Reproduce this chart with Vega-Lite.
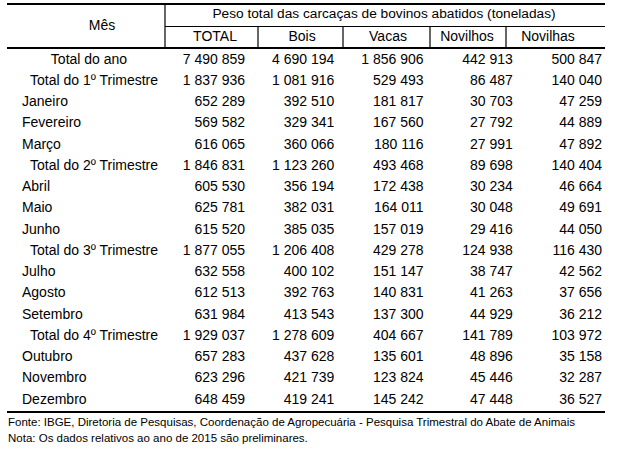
{
  "$schema": "https://vega.github.io/schema/vega-lite/v6.json",
  "width": 620,
  "height": 453,
  "autosize": {"type": "none"},
  "padding": 0,
  "background": "white",
  "config": {
    "view": {"stroke": null},
    "locale": {"number": {"decimal": ",", "thousands": " ", "grouping": [3], "currency": ["", ""]}},
    "text": {"font": "Liberation Sans", "fontSize": 14, "color": "#000000"}
  },
  "datasets": {
    "tabela": [
      {"mes": "Total do ano", "tipo": "ano", "TOTAL": 7490859, "Bois": 4690194, "Vacas": 1856906, "Novilhos": 442913, "Novilhas": 500847},
      {"mes": "Total do 1º Trimestre", "tipo": "trimestre", "TOTAL": 1837936, "Bois": 1081916, "Vacas": 529493, "Novilhos": 86487, "Novilhas": 140040},
      {"mes": "Janeiro", "tipo": "mes", "TOTAL": 652289, "Bois": 392510, "Vacas": 181817, "Novilhos": 30703, "Novilhas": 47259},
      {"mes": "Fevereiro", "tipo": "mes", "TOTAL": 569582, "Bois": 329341, "Vacas": 167560, "Novilhos": 27792, "Novilhas": 44889},
      {"mes": "Março", "tipo": "mes", "TOTAL": 616065, "Bois": 360066, "Vacas": 180116, "Novilhos": 27991, "Novilhas": 47892},
      {"mes": "Total do 2º Trimestre", "tipo": "trimestre", "TOTAL": 1846831, "Bois": 1123260, "Vacas": 493468, "Novilhos": 89698, "Novilhas": 140404},
      {"mes": "Abril", "tipo": "mes", "TOTAL": 605530, "Bois": 356194, "Vacas": 172438, "Novilhos": 30234, "Novilhas": 46664},
      {"mes": "Maio", "tipo": "mes", "TOTAL": 625781, "Bois": 382031, "Vacas": 164011, "Novilhos": 30048, "Novilhas": 49691},
      {"mes": "Junho", "tipo": "mes", "TOTAL": 615520, "Bois": 385035, "Vacas": 157019, "Novilhos": 29416, "Novilhas": 44050},
      {"mes": "Total do 3º Trimestre", "tipo": "trimestre", "TOTAL": 1877055, "Bois": 1206408, "Vacas": 429278, "Novilhos": 124938, "Novilhas": 116430},
      {"mes": "Julho", "tipo": "mes", "TOTAL": 632558, "Bois": 400102, "Vacas": 151147, "Novilhos": 38747, "Novilhas": 42562},
      {"mes": "Agosto", "tipo": "mes", "TOTAL": 612513, "Bois": 392763, "Vacas": 140831, "Novilhos": 41263, "Novilhas": 37656},
      {"mes": "Setembro", "tipo": "mes", "TOTAL": 631984, "Bois": 413543, "Vacas": 137300, "Novilhos": 44929, "Novilhas": 36212},
      {"mes": "Total do 4º Trimestre", "tipo": "trimestre", "TOTAL": 1929037, "Bois": 1278609, "Vacas": 404667, "Novilhos": 141789, "Novilhas": 103972},
      {"mes": "Outubro", "tipo": "mes", "TOTAL": 657283, "Bois": 437628, "Vacas": 135601, "Novilhos": 48896, "Novilhas": 35158},
      {"mes": "Novembro", "tipo": "mes", "TOTAL": 623296, "Bois": 421739, "Vacas": 123824, "Novilhos": 45446, "Novilhas": 32287},
      {"mes": "Dezembro", "tipo": "mes", "TOTAL": 648459, "Bois": 419241, "Vacas": 145242, "Novilhos": 47448, "Novilhas": 36527}
    ],
    "cabecalho": [
      {"texto": "Mês", "col": 0, "nivel": "ambos"},
      {"texto": "TOTAL", "col": 1, "nivel": "sub"},
      {"texto": "Bois", "col": 2, "nivel": "sub"},
      {"texto": "Vacas", "col": 3, "nivel": "sub"},
      {"texto": "Novilhos", "col": 4, "nivel": "sub"},
      {"texto": "Novilhas", "col": 5, "nivel": "sub"}
    ],
    "titulo": [
      {"texto": "Peso total das carcaças de bovinos abatidos (toneladas)", "nivel": "titulo"}
    ],
    "linhas": [
      {"papel": "moldura", "col_ini": 0, "col_fim": 6, "lin_ini": 0, "lin_fim": 0},
      {"papel": "moldura", "col_ini": 0, "col_fim": 6, "lin_ini": 2, "lin_fim": 2},
      {"papel": "moldura", "col_ini": 0, "col_fim": 6, "lin_ini": 3, "lin_fim": 3},
      {"papel": "divisao", "col_ini": 1, "col_fim": 6, "lin_ini": 1, "lin_fim": 1},
      {"papel": "divisao", "col_ini": 1, "col_fim": 1, "lin_ini": 0, "lin_fim": 2},
      {"papel": "divisao", "col_ini": 2, "col_fim": 2, "lin_ini": 1, "lin_fim": 2},
      {"papel": "divisao", "col_ini": 3, "col_fim": 3, "lin_ini": 1, "lin_fim": 2},
      {"papel": "divisao", "col_ini": 4, "col_fim": 4, "lin_ini": 1, "lin_fim": 2},
      {"papel": "divisao", "col_ini": 5, "col_fim": 5, "lin_ini": 1, "lin_fim": 2}
    ],
    "rodape": [
      {"texto": "Fonte: IBGE, Diretoria de Pesquisas, Coordenação de Agropecuária - Pesquisa Trimestral do Abate de Animais"},
      {"texto": "Nota: Os dados relativos ao ano de 2015 são preliminares."}
    ]
  },
  "resolve": {"scale": {"x": "independent", "y": "independent"}},
  "layer": [
    {
      "data": {"name": "linhas"},
      "transform": [{"filter": "datum.papel === 'moldura'"}],
      "mark": {"type": "rule", "strokeWidth": 2, "color": "#000000"},
      "encoding": {
        "x": {"field": "col_ini", "type": "quantitative", "axis": null, "scale": {"domain": [0, 1, 2, 3, 4, 5, 6], "range": [7, 165, 258, 343, 430, 506, 605], "zero": false, "nice": false}},
        "x2": {"field": "col_fim"},
        "y": {"field": "lin_ini", "type": "quantitative", "axis": null, "scale": {"domain": [0, 1, 2, 3], "range": [4, 26.5, 48, 412], "zero": false, "nice": false}},
        "y2": {"field": "lin_fim"}
      }
    },
    {
      "data": {"name": "linhas"},
      "transform": [{"filter": "datum.papel === 'divisao'"}],
      "mark": {"type": "rule", "strokeWidth": 1.2, "color": "#000000"},
      "encoding": {
        "x": {"field": "col_ini", "type": "quantitative", "axis": null, "scale": {"domain": [0, 1, 2, 3, 4, 5, 6], "range": [7, 165, 258, 343, 430, 506, 605], "zero": false, "nice": false}},
        "x2": {"field": "col_fim"},
        "y": {"field": "lin_ini", "type": "quantitative", "axis": null, "scale": {"domain": [0, 1, 2, 3], "range": [4, 26.5, 48, 412], "zero": false, "nice": false}},
        "y2": {"field": "lin_fim"}
      }
    },
    {
      "data": {"name": "titulo"},
      "mark": {"type": "text", "align": "center", "baseline": "middle", "fontSize": 13.7},
      "encoding": {
        "x": {"field": "nivel", "type": "nominal", "axis": null, "scale": {"type": "point", "padding": 0, "domain": ["titulo"], "range": [384, 384]}},
        "y": {"field": "nivel", "type": "nominal", "axis": null, "scale": {"type": "point", "padding": 0, "domain": ["titulo", "ambos", "sub"], "range": [14, 37]}},
        "text": {"field": "texto"}
      }
    },
    {
      "data": {"name": "cabecalho"},
      "mark": {"type": "text", "align": "center", "baseline": "middle"},
      "encoding": {
        "x": {"field": "col", "type": "quantitative", "axis": null, "scale": {"domain": [0, 1, 2, 3, 4, 5], "range": [102, 215, 302, 388, 467, 548], "zero": false, "nice": false}},
        "y": {"field": "nivel", "type": "nominal", "axis": null, "scale": {"type": "point", "padding": 0, "domain": ["titulo", "ambos", "sub"], "range": [14, 37]}},
        "text": {"field": "texto"}
      }
    },
    {
      "data": {"name": "tabela"},
      "transform": [{"filter": "datum.tipo !== 'ano'"}],
      "mark": {"type": "text", "align": "left", "baseline": "middle"},
      "encoding": {
        "x": {"field": "tipo", "type": "nominal", "axis": null, "scale": {"type": "point", "padding": 0, "domain": ["mes", "trimestre"], "range": [22, 30]}},
        "y": {"field": "mes", "type": "nominal", "sort": null, "axis": null, "scale": {"type": "point", "padding": 0, "domain": ["Total do ano", "Total do 1º Trimestre", "Janeiro", "Fevereiro", "Março", "Total do 2º Trimestre", "Abril", "Maio", "Junho", "Total do 3º Trimestre", "Julho", "Agosto", "Setembro", "Total do 4º Trimestre", "Outubro", "Novembro", "Dezembro"], "range": [59.5, 399.5]}},
        "text": {"field": "mes"}
      }
    },
    {
      "data": {"name": "tabela"},
      "transform": [{"filter": "datum.tipo === 'ano'"}],
      "mark": {"type": "text", "align": "center", "baseline": "middle"},
      "encoding": {
        "x": {"field": "tipo", "type": "nominal", "axis": null, "scale": {"type": "point", "padding": 0, "domain": ["ano"], "range": [89, 89]}},
        "y": {"field": "mes", "type": "nominal", "sort": null, "axis": null, "scale": {"type": "point", "padding": 0, "domain": ["Total do ano", "Total do 1º Trimestre", "Janeiro", "Fevereiro", "Março", "Total do 2º Trimestre", "Abril", "Maio", "Junho", "Total do 3º Trimestre", "Julho", "Agosto", "Setembro", "Total do 4º Trimestre", "Outubro", "Novembro", "Dezembro"], "range": [59.5, 399.5]}},
        "text": {"field": "mes"}
      }
    },
    {
      "data": {"name": "tabela"},
      "transform": [{"fold": ["TOTAL", "Bois", "Vacas", "Novilhos", "Novilhas"], "as": ["coluna", "valor"]}],
      "mark": {"type": "text", "align": "right", "baseline": "middle"},
      "encoding": {
        "x": {"field": "coluna", "type": "nominal", "axis": null, "scale": {"type": "point", "padding": 0, "domain": ["TOTAL", "Bois", "Vacas", "Novilhos", "Novilhas"], "range": [245, 602]}},
        "y": {"field": "mes", "type": "nominal", "sort": null, "axis": null, "scale": {"type": "point", "padding": 0, "domain": ["Total do ano", "Total do 1º Trimestre", "Janeiro", "Fevereiro", "Março", "Total do 2º Trimestre", "Abril", "Maio", "Junho", "Total do 3º Trimestre", "Julho", "Agosto", "Setembro", "Total do 4º Trimestre", "Outubro", "Novembro", "Dezembro"], "range": [59.5, 399.5]}},
        "text": {"field": "valor", "type": "quantitative", "format": ",d"}
      }
    },
    {
      "data": {"name": "rodape"},
      "mark": {"type": "text", "align": "left", "baseline": "middle", "fontSize": 11.5},
      "encoding": {
        "x": {"field": "texto", "type": "nominal", "axis": null, "scale": {"type": "point", "padding": 0, "range": [8, 8]}},
        "y": {"field": "texto", "type": "nominal", "sort": null, "axis": null, "scale": {"type": "point", "padding": 0, "domain": ["Fonte: IBGE, Diretoria de Pesquisas, Coordenação de Agropecuária - Pesquisa Trimestral do Abate de Animais", "Nota: Os dados relativos ao ano de 2015 são preliminares."], "range": [423, 439]}},
        "text": {"field": "texto"}
      }
    }
  ]
}
